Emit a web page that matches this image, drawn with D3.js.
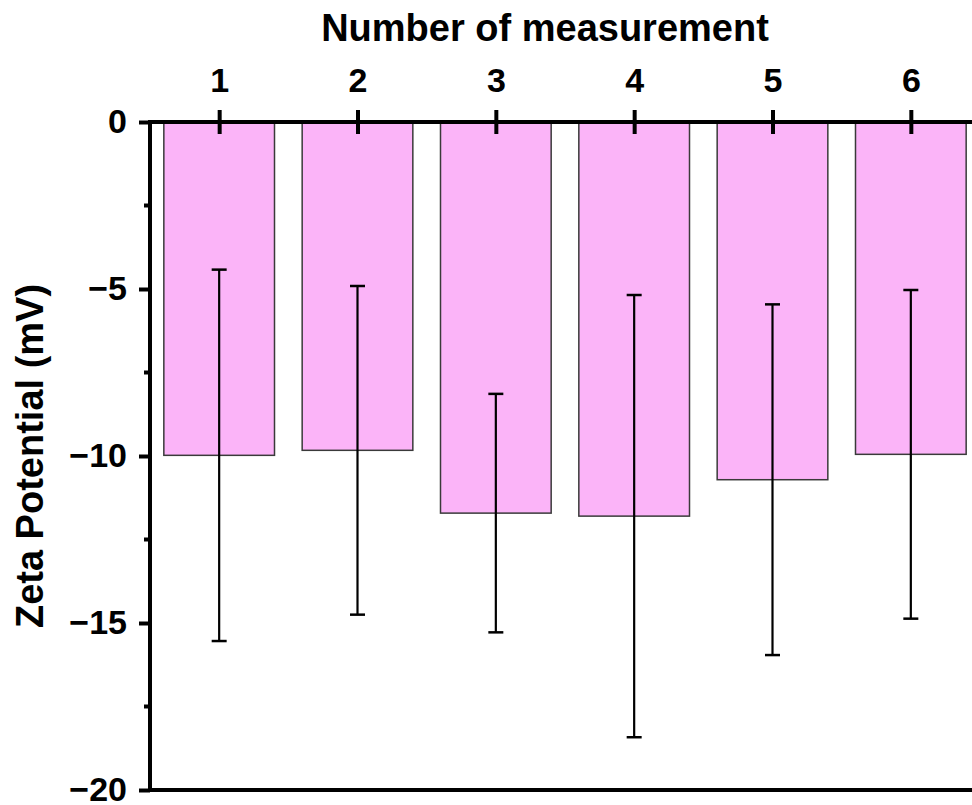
<!DOCTYPE html>
<html>
<head>
<meta charset="utf-8">
<script src="https://cdn.jsdelivr.net/npm/d3@7"></script>
<style>
  body { margin: 0; background: #fff; }
  svg text { font-family: 'Liberation Sans', Arial, sans-serif; font-weight: bold; fill: #000; }
</style>
</head>
<body>
<div id="chart"></div>
<script>
const measurements = [1, 2, 3, 4, 5, 6];
const zetaMeans = [-9.98, -9.83, -11.71, -11.80, -10.71, -9.95];
const zetaErrors = [5.56, 4.92, 3.57, 6.62, 5.25, 4.92];
const yTicks = [0, -5, -10, -15, -20];
const yMinorTicks = [-2.5, -7.5, -12.5, -17.5];

const width = 972;
const height = 805;
const margin = { top: 122, left: 150, bottom: 15 };

const svg = d3.select('#chart').append('svg')
  .attr('width', width)
  .attr('height', height);

const x = d3.scaleLinear()
  .domain([0.5, 6.5])
  .range([margin.left, 980]);

const y = d3.scaleLinear()
  .domain([0, -20])
  .range([margin.top, height - margin.bottom]);

const step = x(2) - x(1);
const barWidth = step * 0.8;
const capWidth = 15;

// bars
svg.append('g').selectAll('rect')
  .data(measurements)
  .join('rect')
  .attr('x', (d) => x(d) - barWidth / 2)
  .attr('y', y(0))
  .attr('width', barWidth)
  .attr('height', (d, i) => y(zetaMeans[i]) - y(0))
  .style('fill', '#fbb4f8')
  .style('stroke', '#3a3a3a')
  .style('stroke-width', 1.5);

// error bars
const err = svg.append('g').style('stroke', '#000');
measurements.forEach((m, i) => {
  const top = zetaMeans[i] + zetaErrors[i];
  const bot = zetaMeans[i] - zetaErrors[i];
  err.append('line')
    .attr('x1', x(m)).attr('x2', x(m))
    .attr('y1', y(top)).attr('y2', y(bot))
    .style('stroke-width', 2.2);
  [top, bot].forEach((v) => {
    err.append('line')
      .attr('x1', x(m) - capWidth / 2).attr('x2', x(m) + capWidth / 2)
      .attr('y1', y(v)).attr('y2', y(v))
      .style('stroke-width', 2.5);
  });
});

// top axis
const xAxis = d3.axisTop(x)
  .tickValues(measurements)
  .tickSizeInner(12)
  .tickSizeOuter(0)
  .tickPadding(18)
  .tickFormat(d3.format('d'));

const gx = svg.append('g')
  .attr('transform', `translate(0,${y(0)})`)
  .call(xAxis);
gx.select('.domain').remove();
gx.selectAll('.tick line')
  .attr('y1', 12).attr('y2', -12)
  .style('stroke', '#000')
  .style('stroke-width', 4);
gx.selectAll('.tick text')
  .style('font-size', '34px')
  .attr('font-family', null);

// left axis
const yAxis = d3.axisLeft(y)
  .tickValues(yTicks)
  .tickSizeInner(11)
  .tickSizeOuter(0)
  .tickPadding(12)
  .tickFormat((d) => d3.format('d')(d).replace('-', '\u2212'));

const gy = svg.append('g')
  .attr('transform', `translate(${margin.left},0)`)
  .call(yAxis);
gy.select('.domain').remove();
gy.selectAll('.tick line')
  .style('stroke', '#000')
  .style('stroke-width', 4);
gy.selectAll('.tick text')
  .style('font-size', '34px')
  .attr('font-family', null);

gy.selectAll('.minor')
  .data(yMinorTicks)
  .join('line')
  .attr('class', 'minor')
  .attr('x1', -6).attr('x2', 0)
  .attr('y1', (d) => y(d)).attr('y2', (d) => y(d))
  .style('stroke', '#000')
  .style('stroke-width', 4);

// frame lines
const frame = svg.append('g').style('stroke', '#000').style('stroke-width', 4);
frame.append('line')
  .attr('x1', margin.left - 2).attr('x2', width)
  .attr('y1', y(0)).attr('y2', y(0));
frame.append('line')
  .attr('x1', margin.left - 2).attr('x2', width)
  .attr('y1', y(-20)).attr('y2', y(-20));
frame.append('line')
  .attr('x1', margin.left).attr('x2', margin.left)
  .attr('y1', y(0) - 2).attr('y2', y(-20) + 2);

// titles
svg.append('text')
  .attr('x', 545)
  .attr('y', 41)
  .style('text-anchor', 'middle')
  .style('font-size', '38px')
  .text('Number of measurement');

svg.append('text')
  .attr('transform', `translate(43,${(y(0) + y(-20)) / 2}) rotate(-90)`)
  .style('text-anchor', 'middle')
  .style('font-size', '38px')
  .text('Zeta Potential (mV)');
</script>
</body>
</html>
